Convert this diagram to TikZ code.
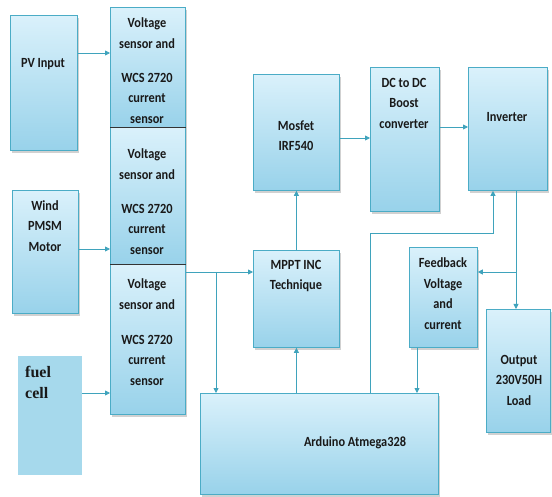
\documentclass[tikz,border=0pt]{standalone}
\usepackage{fontspec}
\setmainfont{Carlito}[FakeStretch=0.88]
\newfontfamily\fuelfont{Liberation Serif}
\usetikzlibrary{arrows.meta,shadows,calc}
\definecolor{bord}{HTML}{4BACC6}
\definecolor{btop}{HTML}{DAF1FB}
\definecolor{bbot}{HTML}{98D2EA}
\definecolor{fuelc}{HTML}{A6D9EC}
\definecolor{arrc}{HTML}{3FA3BC}
\begin{document}
\begin{tikzpicture}[x=1pt,y=-1pt,
 box/.style={draw=bord, line width=0.8pt, top color=btop, bottom color=bbot, anchor=north west, inner sep=0pt,
   drop shadow={shadow xshift=1.5pt, shadow yshift=-2.5pt, opacity=0.3, fill=black!60}},
 txt/.style={font=\fontsize{14}{20.5}\selectfont\bfseries, align=center, text=black!90, inner sep=0pt},
 arr/.style={draw=arrc, line width=0.8pt, -{Triangle[length=5pt,width=5pt]}},
 divider/.style={draw=black!80, line width=0.8pt}]
\useasboundingbox (0,0) rectangle (552,497);
% boxes
\node[box, minimum width=67pt, minimum height=135pt] (pv) at (10,15) {};
\node[box, minimum width=66pt, minimum height=123pt] (wind) at (12,190) {};
\node[fill=fuelc, anchor=north west, inner sep=0pt, minimum width=64pt, minimum height=119pt] (fuel) at (18,356) {};
\node[box, minimum width=75pt, minimum height=120pt] (s1) at (110,7) {};
\node[box, minimum width=75pt, minimum height=137pt] (s2) at (110,127) {};
\node[box, minimum width=75pt, minimum height=150pt] (s3) at (110,264) {};
\draw[divider] (s1.south west) -- (s1.south east);
\draw[divider] (s2.south west) -- (s2.south east);
\node[box, minimum width=86pt, minimum height=116pt] (mos) at (253,74) {};
\node[box, minimum width=69pt, minimum height=144pt] (dc) at (370,67) {};
\node[box, minimum width=79pt, minimum height=123pt] (inv) at (468,67) {};
\node[box, minimum width=86pt, minimum height=97pt] (mppt) at (253,250) {};
\node[box, minimum width=68pt, minimum height=100pt] (fb) at (409,247) {};
\node[box, minimum width=64pt, minimum height=123pt] (outp) at (486,309) {};
\node[box, minimum width=238pt, minimum height=101pt] (ard) at (200,393) {};
% texts
\node[txt] (tpv) at (43,64) {PV Input};
\node[txt] (twind) at (45,226) {Wind\\PMSM\\Motor};
\node[font=\fontsize{16}{21}\selectfont\fuelfont\bfseries, align=left, inner sep=0pt, anchor=west, text=black!90] (tfuel) at (25,382.5) {fuel\\cell};
\node[txt] (ts1a) at (147,33) {Voltage\\sensor and};
\node[txt] (ts1b) at (147,98) {WCS 2720\\current\\sensor};
\node[txt] (ts2a) at (147,164) {Voltage\\sensor and};
\node[txt] (ts2b) at (147,229) {WCS 2720\\current\\sensor};
\node[txt] (ts3a) at (147,294) {Voltage\\sensor and};
\node[txt] (ts3b) at (147,360) {WCS 2720\\current\\sensor};
\node[txt] (tmos) at (296,135.5) {Mosfet\\IRF540};
\node[txt] (tdc) at (404,103) {DC to DC\\Boost\\converter};
\node[txt] (tinv) at (507,117) {Inverter};
\node[txt] (tmppt) at (296,276) {MPPT INC\\Technique};
\node[txt] (tfb) at (443,293.5) {Feedback\\Voltage\\and\\current};
\node[txt] (tout) at (519,380) {Output\\230V50H\\Load};
\node[txt] (tard) at (355,443) {Arduino Atmega328};
% connectors
\draw[arr] (pv.east |- 0,53) -- (s1.west |- 0,53);
\draw[arr] (wind.east |- 0,249) -- (s2.west |- 0,249);
\draw[arr] (fuel.east |- 0,393) -- (s3.west |- 0,393);
\draw[arr] (s3.east |- 0,272) -- (mppt.west |- 0,272);
\coordinate (br1) at (216,272);
\draw[arr] (br1) -- (br1 |- ard.north);
\draw[arr] (ard.north -| mppt.south) -- (mppt.south);
\draw[arr] (mppt.north) -- (mos.south);
\draw[arr] (mos.east |- 0,138) -- (dc.west |- 0,138);
\draw[arr] (dc.east |- 0,127) -- (inv.west |- 0,127);
\coordinate (c1) at (370,233);
\coordinate (c2) at (493,233);
\draw[arr] (ard.north -| c1) -- (c1) -- (c2) -- (inv.south -| c2);
\coordinate (c3) at (516,272);
\draw[arr] (inv.south -| c3) -- (outp.north -| c3);
\draw[arr] (c3) -- (fb.east |- c3);
\coordinate (c4) at (417,0);
\draw[arr] (fb.south -| c4) -- (ard.north -| c4);
\end{tikzpicture}
\end{document}
